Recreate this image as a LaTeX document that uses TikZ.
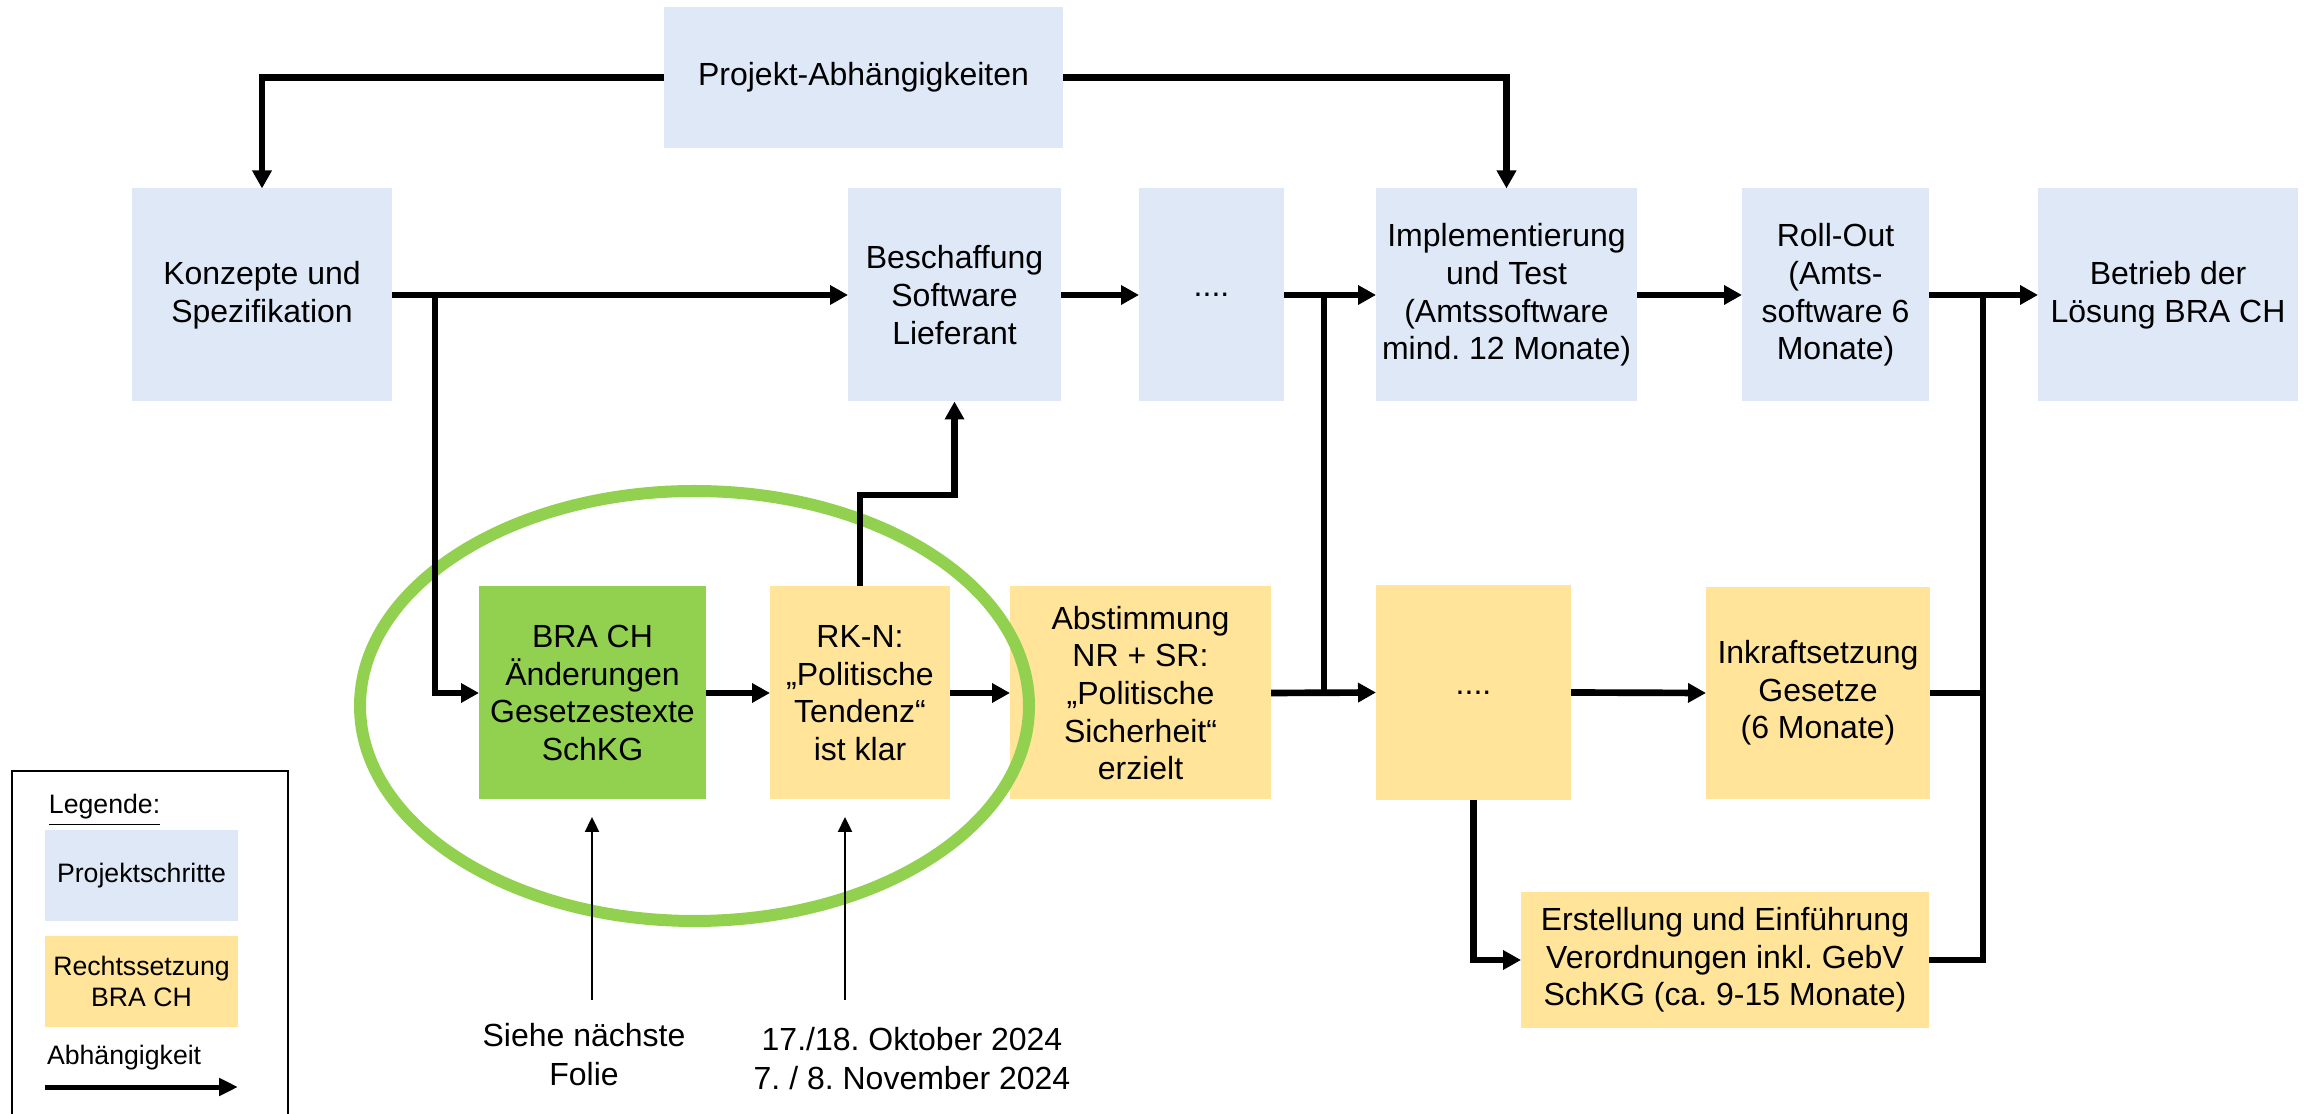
\documentclass[tikz,border=0pt]{standalone}
\usepackage{fontspec}
\setmainfont{Liberation Sans}
\usetikzlibrary{arrows.meta,calc}
\definecolor{pblue}{HTML}{DEE8F7}
\definecolor{pyel}{HTML}{FFE499}
\definecolor{pgreen}{HTML}{92D050}
\frenchspacing
\begin{document}
\begin{tikzpicture}[x=0.3pt,y=-0.3pt,
  box/.style={inner sep=0pt, outer sep=0pt, align=center, text=black,
    font=\fontsize{9.6}{11.3}\selectfont},
  pstep/.style={box, fill=pblue},
  lawstep/.style={box, fill=pyel},
  greenstep/.style={box, fill=pgreen},
  legtext/.style={inner sep=0pt, outer sep=0pt, align=center, font=\fontsize{8}{9.5}\selectfont},
  conn/.style={line width=2pt},
  arr/.style={conn, -{Triangle[length=5.4pt,width=5.6pt]}},
  thinarr/.style={line width=0.7pt, -{Triangle[length=4.5pt,width=4.2pt]}},
  legarr/.style={line width=1.5pt, -{Triangle[length=5.7pt,width=5.1pt]}},
  ring/.style={draw=pgreen, line width=3.6pt},
  plain/.style={inner sep=0pt, outer sep=0pt, align=center, font=\fontsize{9.6}{11.7}\selectfont}
]
\useasboundingbox (0,0) rectangle (2315,1114);

% ---------- top row (project steps) ----------
\node[pstep, minimum width=119.7pt, minimum height=42.3pt] (proj) at (863.5,77.5) {Projekt-Abhängigkeiten};
\node[pstep, minimum width=78pt, minimum height=63.9pt] (konz) at (262,295) {Konzepte und\\Spezifikation};
\node[pstep, minimum width=63.9pt, minimum height=63.9pt] (besch) at (954.5,295) {Beschaffung\\Software\\Lieferant};
\node[pstep, minimum width=43.5pt, minimum height=63.9pt] (dotsA) at (1211.5,295) {....};
\node[pstep, minimum width=78.3pt, minimum height=63.9pt] (impl) at (1506.5,295) {Implementierung\\und Test\\(Amtssoftware\\mind. 12 Monate)};
\node[pstep, minimum width=56.1pt, minimum height=63.9pt] (roll) at (1835.5,295) {Roll-Out\\(Amts-\\software 6\\Monate)};
\node[pstep, minimum width=78pt, minimum height=63.9pt] (betr) at (2168,295) {Betrieb der\\Lösung BRA CH};

% ---------- bottom row (legislation) ----------
\node[greenstep, minimum width=68.1pt, minimum height=63.9pt] (bra) at (592.5,693) {BRA CH\\Änderungen\\Gesetzestexte\\SchKG};
\node[lawstep, minimum width=54pt, minimum height=63.9pt] (rkn) at (860,693) {RK-N:\\„Politische\\Tendenz“\\ist klar};
\node[lawstep, minimum width=78.3pt, minimum height=63.9pt] (abst) at (1140.5,693) {Abstimmung\\NR + SR:\\„Politische\\Sicherheit“\\erzielt};
\node[lawstep, minimum width=58.5pt, minimum height=64.5pt] (dotsB) at (1473.5,692.5) {....};
\node[lawstep, minimum width=67.2pt, minimum height=63.6pt] (inkr) at (1818,693) {Inkraftsetzung\\Gesetze\\(6 Monate)};
\node[lawstep, minimum width=122.4pt, minimum height=40.8pt] (erst) at (1725,960) {Erstellung und Einführung\\Verordnungen inkl. GebV\\SchKG (ca. 9-15 Monate)};

% ---------- green ring ----------
\draw[ring] (694.5,706) ellipse [x radius=334.5, y radius=215];

% ---------- connectors ----------
\draw[arr] (proj.west) -| (konz.north);
\draw[arr] (proj.east) -| (impl.north);

\draw[arr] (konz.east) -- (besch.west);
\coordinate (jA) at (435,295);
\draw[arr] (jA) |- (bra.west);

\draw[arr] (besch.east) -- (dotsA.west);
\draw[arr] (dotsA.east) -- (impl.west);
\draw[arr] (impl.east) -- (roll.west);
\draw[arr] (roll.east) -- (betr.west);

\draw[arr] (bra.east) -- (rkn.west);
\draw[arr] (rkn.east) -- (abst.west);
\coordinate (kR) at (954.5,495);
\draw[arr] (rkn.north) |- (kR) -- (besch.south);

\draw[arr] (abst.east) -- (dotsB.west);
\coordinate (jB) at (1324,295);
\draw[conn] (jB) -- (jB |- abst.east);

\draw[arr] (dotsB.east) -- (inkr.west);
\draw[arr] (dotsB.south) |- (erst.west);

\coordinate (jC) at (1983,295);
\draw[conn] (jC) |- (erst.east);
\draw[conn] (inkr.east) -- (inkr.east -| jC);

% ---------- notes below ----------
\node[plain] (note1) at (584,1055) {Siehe nächste\\Folie};
\node[plain] (note2) at (912,1059) {17./18. Oktober 2024\\7. / 8. November 2024};
\coordinate (s1) at (592,1000);
\coordinate (t1) at (592,817);
\coordinate (s2) at (845,1000);
\coordinate (t2) at (845,817);
\draw[thinarr] (s1) -- (t1);
\draw[thinarr] (s2) -- (t2);

% ---------- legend ----------
\draw[line width=0.6pt] (12,1130) -- (12,771) -- (288,771) -- (288,1130);
\node[legtext, anchor=base west] (legtitle) at (49,814) {\underline{Legende:}};
\node[legtext, fill=pblue, minimum width=57.9pt, minimum height=27.3pt] (legP) at (141.5,875.5) {Projektschritte};
\node[legtext, fill=pyel, minimum width=57.9pt, minimum height=27.3pt] (legR) at (141.5,981.5) {Rechtssetzung\\BRA CH};
\node[legtext, anchor=base west] (legA) at (47,1064) {Abhängigkeit};
\coordinate (la1) at (45,1087);
\coordinate (la2) at (238,1087);
\draw[legarr] (la1) -- (la2);
\end{tikzpicture}
\end{document}
